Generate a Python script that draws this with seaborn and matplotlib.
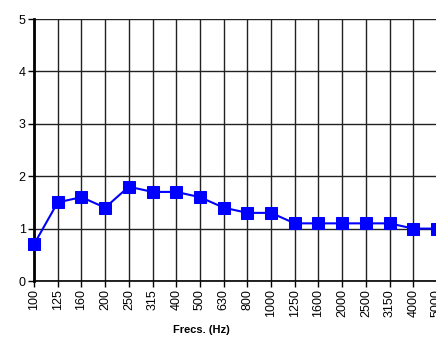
import matplotlib
matplotlib.use("Agg")
import matplotlib.pyplot as plt
import seaborn as sns
import pandas as pd

freqs = ["100", "125", "160", "200", "250", "315", "400", "500", "630", "800",
         "1000", "1250", "1600", "2000", "2500", "3150", "4000", "5000"]
values = [0.7, 1.5, 1.6, 1.4, 1.8, 1.7, 1.7, 1.6, 1.4, 1.3,
          1.3, 1.1, 1.1, 1.1, 1.1, 1.1, 1.0, 1.0]
y_ticks = [0, 1, 2, 3, 4, 5]

sns.set_theme(style="white")
plt.rcParams["font.family"] = ["Liberation Sans", "DejaVu Sans"]

df = pd.DataFrame({"pos": range(len(freqs)), "val": values})

W, H = 436, 338
fig = plt.figure(figsize=(W / 100, H / 100), dpi=100)
ax = fig.add_axes([34 / W, (H - 281) / H, 403 / W, 262 / H])

sns.lineplot(data=df, x="pos", y="val", ax=ax, color="#0000FF", linewidth=1.5,
             marker="s", markersize=8, markeredgecolor="#0000FF", clip_on=False,
             zorder=5)

ax.set_xlim(0, len(freqs) - 1)
ax.set_ylim(0, 5)
ax.set_xticks(range(len(freqs)))
ax.set_xticklabels(freqs, rotation=90, fontsize=9)
ax.set_yticks(y_ticks)
ax.set_yticklabels([str(t) for t in y_ticks], fontsize=9)

ax.grid(True, color="#222222", linewidth=1.0)
ax.set_axisbelow(True)
for side in ["top", "right"]:
    ax.spines[side].set_visible(False)
ax.spines["left"].set_color("black")
ax.spines["left"].set_linewidth(2.0)
ax.spines["bottom"].set_color("black")
ax.spines["bottom"].set_linewidth(1.2)

ax.tick_params(axis="both", direction="out", length=4, width=1, color="black",
               left=True, bottom=True, pad=2, labelcolor="black")

ax.set_ylabel("")
ax.set_xlabel("Frecs. (Hz)", fontsize=8, fontweight="bold", color="black")
ax.xaxis.set_label_coords((201 - 34) / 403, -(325 - 281) / 262)

fig.savefig("out.png", dpi=100)
